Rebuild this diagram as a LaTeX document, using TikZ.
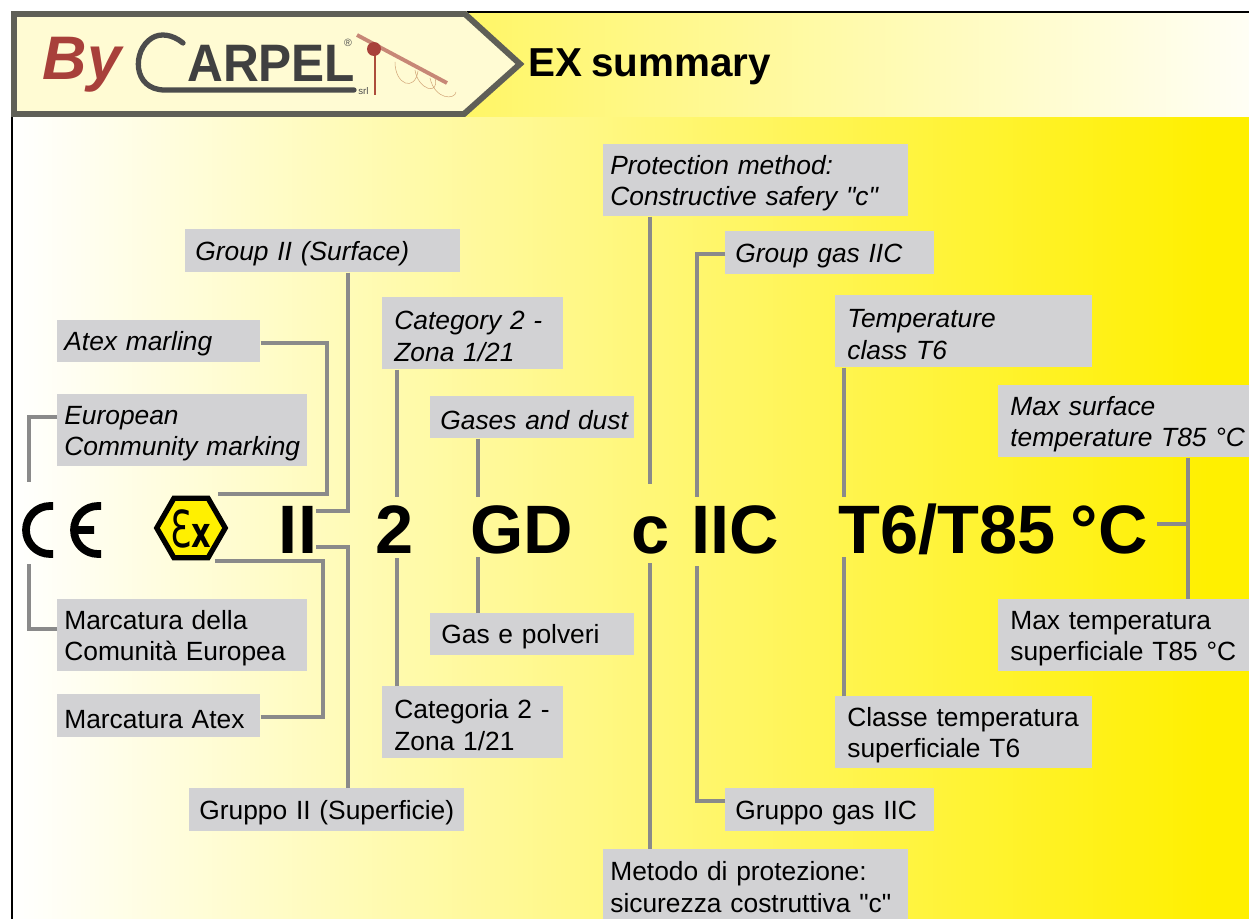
\documentclass[tikz,border=0pt]{standalone}
\usepackage{fontspec}
\setmainfont{Liberation Sans}[Ligatures=TeXOff, WordSpace=0.8]
\newfontfamily\exfont{DejaVu Sans}
\usetikzlibrary{shapes.geometric}
\definecolor{boxgrey}{HTML}{D2D2D4}
\definecolor{leadgrey}{HTML}{8A8A8A}
\definecolor{framegrey}{HTML}{5F5F57}
\definecolor{cream}{HTML}{FFFBD3}
\definecolor{signyellow}{HTML}{FFF000}
\definecolor{logored}{HTML}{A8403A}
\tikzset{
  greybox/.style n args={3}{anchor=north west, fill=boxgrey, align=left, inner sep=0pt,
    text width={#1*0.02cm}, minimum height=#2*0.02cm,
    execute at begin node={\leftskip=#3\dimexpr0.02cm\relax\leavevmode\rule{0pt}{14pt}},
    font=\fontsize{15}{17.9}\selectfont},
  lead/.style={draw=leadgrey, line width=2.4pt},
  bigtext/.style={anchor=base, inner sep=0pt, font=\fontsize{39}{39}\selectfont\bfseries},
}
\begin{document}
\begin{tikzpicture}[x=0.02cm, y=-0.02cm]
  \useasboundingbox (0,0) rectangle (1249,919);
  % background
  \fill[white] (0,0) rectangle (1249,919);
  \shade[left color=white, right color=signyellow] (12,117) rectangle (1212,919);
  \fill[signyellow] (1211,117) rectangle (1249,919);
  \shade[left color=signyellow!60, right color=signyellow!4] (465,12) rectangle (1249,117);
  \draw[line width=1.1pt] (12,117) -- (12,919);
  \draw[line width=0.9pt] (467,12) -- (1249,12);
  % logo
  \draw[framegrey, fill=cream, line width=3.4pt, line join=miter] (14,14) -- (465,14) -- (520,64) -- (464,114) -- (14,114) -- cycle;
  \node[anchor=base, inner sep=0pt, text=logored, font=\fontsize{35}{35}\selectfont\bfseries\itshape] (logoBy) at (82,80) {By};
  \node[anchor=base west, inner sep=0pt, text=black!75, font=\fontsize{30}{30}\selectfont\bfseries] (logoName) at (187,82) {\scalebox{.94}[1]{ARPEL}};
  \draw[black!70, line width=3pt, line cap=round] (183,43) .. controls (172,34) and (160,33) .. (152,38) .. controls (132,50) and (132,90) .. (165,90) -- (354,90);
  \node[inner sep=0pt, text=black!70, font=\fontsize{6}{6}\selectfont] (logoReg) at (348,43) {®};
  \node[anchor=base west, inner sep=0pt, text=black!70, font=\fontsize{5.5}{5.5}\selectfont] (logoSrl) at (358,95) {srl};
  \draw[logored!70!brown!70, line width=2.2pt] (357,35) -- (447,83);
  \draw[logored!80!brown, line width=0.9pt] (375,50) -- (375,95);
  \fill[logored] (374,49) circle (7);
  \draw[brown!70, line width=0.3pt] (395,62) .. controls (395,85) and (415,92) .. (418,71) (415,70) .. controls (418,90) and (440,96) .. (435,78) (430,78) .. controls (435,100) and (455,100) .. (456,92);
  \node[anchor=base west, inner sep=0pt, font=\fontsize{23}{23}\selectfont\bfseries] (title) at (528,77) {EX summary};
  % signs
  \draw[line width=4.4pt] (53,506) -- (50,506) arc (270:90:24) -- (53,554) (101,506) -- (98,506) arc (270:90:24) -- (101,554) (77,530) -- (94,530);
  \coordinate (ceUp) at (29,482);
  \coordinate (ceDown) at (29,564);
  \node[regular polygon, regular polygon sides=6, draw, fill=signyellow, line width=3pt, minimum size=1.37cm, inner sep=0pt] (exMark) at (191,528) {};
  \node[anchor=base, inner sep=0pt, font=\exfont\fontsize{29}{29}\selectfont] (exText) at (191,547) {\scalebox{.68}[1]{Ɛ}\fontsize{24}{24}\selectfont\bfseries\scalebox{.72}[1]{x}};
  \node[bigtext] (bigII) at (298,553) {II};
  \node[bigtext] (bigTwo) at (395,553) {2};
  \node[bigtext] (bigGD) at (522,553) {GD};
  \node[bigtext] (bigLow) at (651,553) {c};
  \node[bigtext] (bigIIC) at (735,553) {IIC};
  \node[bigtext] (bigT) at (993,553) {T6/T85 °C};
  % labels, upper row
  \node[greybox={203}{42}{7}] (atexEn) at (57,320) {\itshape Atex marling};
  \node[greybox={250}{72}{7}] (ceEn) at (57,394) {\itshape European\\Community marking};
  \node[greybox={275}{43}{10}] (groupEn) at (185,229) {\itshape Group II (Surface)};
  \node[greybox={181}{72}{12}] (catEn) at (382,297) {\itshape Category 2 -\\Zona 1/21};
  \node[greybox={204}{42}{10}] (gasEn) at (430,396) {\itshape Gases and dust};
  \node[greybox={305}{72}{7}] (protEn) at (603,144) {\itshape Protection method:\\Constructive safery "c"};
  \node[greybox={209}{43}{10}] (gasGroupEn) at (725,231) {\itshape Group gas IIC};
  \node[greybox={257}{72}{12}] (tempEn) at (835,295) {\itshape Temperature\\class T6};
  \node[greybox={251}{72}{12}] (maxEn) at (998,385) {\itshape Max surface\\temperature T85 °C};
  % labels, lower row
  \node[greybox={250}{72}{7}] (ceIt) at (57,599) {Marcatura della\\Comunità Europea};
  \node[greybox={203}{43}{7}] (atexIt) at (57,694) {Marcatura Atex};
  \node[greybox={275}{43}{10}] (groupIt) at (189,788) {Gruppo II (Superficie)};
  \node[greybox={181}{72}{12}] (catIt) at (382,686) {Categoria 2 -\\Zona 1/21};
  \node[greybox={204}{42}{11}] (gasIt) at (430,613) {Gas e polveri};
  \node[greybox={305}{70}{7}] (protIt) at (603,849) {Metodo di protezione:\\sicurezza costruttiva "c"};
  \node[greybox={209}{43}{10}] (gasGroupIt) at (725,788) {Gruppo gas IIC};
  \node[greybox={257}{72}{12}] (tempIt) at (835,696) {Classe temperatura\\superficiale T6};
  \node[greybox={251}{72}{12}] (maxIt) at (998,599) {Max temperatura\\superficiale T85 °C};
  % connectors
  \draw[lead] (ceEn.west |- 0,417) -| (ceUp);
  \draw[lead] (ceIt.west |- 0,629) -| (ceDown);
  \draw[lead] (atexEn.east |- 0,343) -| (327,494) -- (218,494);
  \draw[lead] (atexIt.east |- 0,717) -| (323,561) -- (215,561);
  \draw[lead] (groupEn.south -| 348,0) |- (316,511);
  \draw[lead] (groupIt.north -| 348,0) |- (316,547);
  \draw[lead] (catEn.south -| 397,0) -- (397,497);
  \draw[lead] (catIt.north -| 397,0) -- (397,558);
  \draw[lead] (gasEn.south -| 478,0) -- (478,497);
  \draw[lead] (gasIt.north -| 478,0) -- (478,557);
  \draw[lead] (protEn.south -| 650,0) -- (650,484);
  \draw[lead] (protIt.north -| 650,0) -- (650,563);
  \draw[lead] (gasGroupEn.west |- 0,254) -| (697,497);
  \draw[lead] (gasGroupIt.west |- 0,801) -| (697,566);
  \draw[lead] (tempEn.south -| 844,0) -- (844,497);
  \draw[lead] (tempIt.north -| 844,0) -- (844,557);
  \draw[lead] (maxEn.south -| 1188,0) -- (maxIt.north -| 1188,0);
  \draw[lead] (1157,524) -- (1188,524);
\end{tikzpicture}
\end{document}
